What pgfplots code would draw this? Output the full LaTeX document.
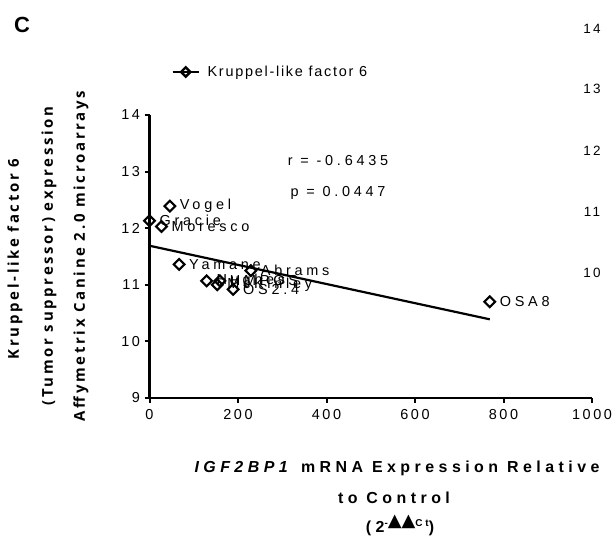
\documentclass[border=0pt]{standalone}
\usepackage{fontspec}
\setmainfont{Liberation Sans}
\newfontfamily\trk[LetterSpace=18]{Liberation Sans}
\newfontfamily\trkl[LetterSpace=12]{Liberation Sans}
\newfontfamily\trkp[LetterSpace=26]{Liberation Sans}
\newfontfamily\trkb[LetterSpace=28]{Liberation Sans}
\newfontfamily\ylab[LetterSpace=18]{Open Sans}
\newfontfamily\sym{DejaVu Sans}
\usepackage{pgfplots}
\usepackage{pgfplotstable}
\pgfplotsset{compat=1.18}
\pgfplotstableread{
x y label
0 12.13 Gracie
27 12.03 Moresco
46 12.39 Vogel
67 11.36 Yamane
229 11.25 Abrams
129 11.07 Hughes
153 11.00 McKinley
159 11.07 HMPOS
189 10.92 OS2.4
769 10.70 OSA8
}\datatable
\begin{document}
\begin{tikzpicture}[x=1bp,y=1bp]
\path[use as bounding box] (0,0) rectangle (613,541);
\begin{axis}[
  at={(149.5bp,143bp)}, anchor=south west,
  scale only axis, width=442.5bp, height=283bp,
  xmin=0, xmax=1000, ymin=9, ymax=14,
  axis lines=left,
  axis line style={-, line width=2.4bp},
  xtick={0,200,400,600,800,1000},
  ytick={9,10,11,12,13,14},
  tick align=outside,
  major tick length=5bp,
  every tick/.style={black, line width=2bp},
  tick label style={font=\trk\fontsize{14.5}{16}\selectfont},
  /pgf/number format/assume math mode=true,
  /pgf/number format/1000 sep={},
  xticklabel style={yshift=-3bp},
  yticklabel style={xshift=-1bp},
  clip=false,
  legend style={draw=none, fill=none, at={(rel axis cs:0.05,1.152)}, anchor=west,
    font=\trkl\fontsize{14.5}{16}\selectfont, inner sep=0pt},
  legend cell align=left,
]
\addlegendimage{black, line width=1.8bp, mark=square, mark size=3.3bp,
  mark options={rotate=45, solid, fill=white, line width=2.4bp},
  legend image code/.code={\draw[mark repeat=2,mark phase=2,##1] plot coordinates {(0bp,0bp) (13bp,0bp) (26bp,0bp)};}}
\addlegendentry{\hspace{6bp}Kruppel-like factor 6}
\addplot[only marks, mark=square, mark size=3.8bp,
  mark options={rotate=45, line width=2.1bp, black, fill=none},
  nodes near coords, point meta=explicit symbolic,
  every node near coord/.style={anchor=west, xshift=9bp, inner sep=0pt,
    font=\trkp\fontsize{14.5}{16}\selectfont, text=black}]
  table[x=x, y=y, meta=label] {\datatable};
\addplot[black, line width=2.2bp, mark=none] coordinates {(0,11.69) (769,10.39)};
\node[font=\trkp\fontsize{14.5}{16}\selectfont] at (axis cs:426,13.20) {r = -0.6435};
\node[font=\trkp\fontsize{14.5}{16}\selectfont] at (axis cs:426,12.62) {p = 0.0447};
\end{axis}
% panel letter
\node[font=\bfseries\fontsize{22}{24}\selectfont] at (22,516) {C};
% stray tick labels from neighbouring panel
\foreach \v/\yy in {14/29,13/89,12/151,11/212,10/273}{
  \node[font=\trk\fontsize{13.5}{15}\selectfont] at (592,541-\yy) {\v};
}
% y label
\node[rotate=90, font=\ylab\bfseries\fontsize{15}{16}\selectfont] at (15,541-259) {Kruppel-like factor 6};
\node[rotate=90, font=\ylab\bfseries\fontsize{15}{16}\selectfont] at (49,541-256) {(Tumor suppressor) expression};
\node[rotate=90, font=\ylab\bfseries\fontsize{15}{16}\selectfont] at (81,541-256) {Affymetrix Canine 2.0 microarrays};
% x label
\node[font=\trkb\bfseries\fontsize{16}{17}\selectfont] at (397,541-468) {\textit{IGF2BP1} mRNA Expression Relative};
\node[font=\trkb\bfseries\fontsize{16}{17}\selectfont] at (394,541-498) {to Control};
\node[font=\trkb\bfseries\fontsize{16}{17}\selectfont] at (400,541-525) {(2\raisebox{6bp}{\fontsize{10}{11}\selectfont -{\sym\fontsize{18}{18}\selectfont ▲▲}Ct})};
\end{tikzpicture}
\end{document}
